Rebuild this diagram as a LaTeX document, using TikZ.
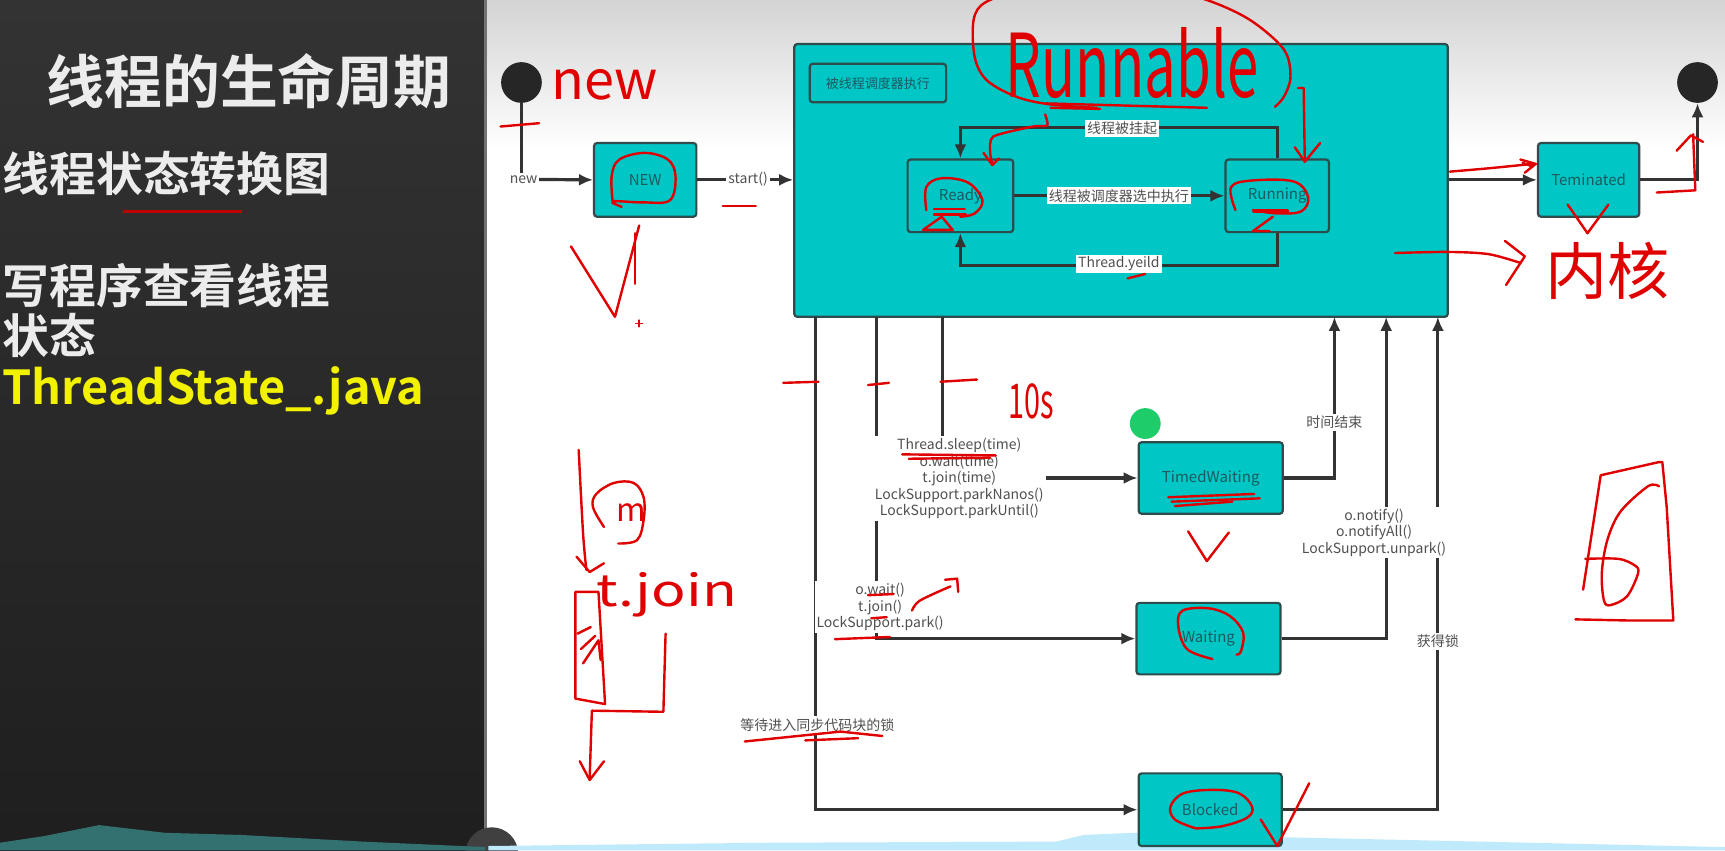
\documentclass[tikz,border=0pt]{standalone}
\usepackage{fontspec}
\newfontfamily\cjk{Noto Sans CJK SC}
\newfontfamily\cjkb{Noto Sans CJK SC Bold}
\newfontfamily\thin{DejaVu Sans}
\usetikzlibrary{arrows.meta}
\definecolor{cy}{HTML}{00C6C6}
\definecolor{bline}{HTML}{2E4C4C}
\definecolor{lineC}{HTML}{333333}
\definecolor{btxt}{HTML}{1E5A5E}
\definecolor{ltxt}{HTML}{505050}
\definecolor{hred}{HTML}{E00000}
\definecolor{chalk}{HTML}{ECECEC}
\definecolor{yel}{HTML}{F2F200}
\definecolor{gdot}{HTML}{1FCC6A}
\begin{document}
\begin{tikzpicture}[x=0.55pt,y=-0.55pt,
 wh/.style 2 args={minimum width=#1*0.55pt, minimum height=#2*0.55pt},
 box/.style={draw=bline, fill=cy, rounded corners=1.5pt, line width=1.1pt, inner sep=0pt, text=btxt, font=\cjk\fontsize{7.5}{9}\selectfont},
 conn/.style={draw=lineC, line width=1.6pt},
 arr/.style={conn, -{Latex[length=7pt,width=6pt]}},
 lab/.style={fill=white, inner sep=1pt, text=ltxt, align=center, font=\cjk\fontsize{7}{8.25}\selectfont},
 hand/.style={draw=hred, line width=1.2pt, line cap=round, line join=round},
 handtxt/.style={text=hred, inner sep=0pt},
 chalktxt/.style={anchor=west, inner sep=0pt, text=chalk, font=\cjkb\fontsize{23.4}{26}\selectfont},
]
\useasboundingbox (0,0) rectangle (1568,773);
\clip (0,0) rectangle (1568,773);
% backgrounds
\fill[white] (441,0) rectangle (1568,773);
\shade[top color=black!17, bottom color=white] (441,0) rectangle (1568,135);
\shade[top color=black!80, bottom color=black!88] (0,0) rectangle (441,773);
\draw[black!55, line width=1.5pt] (441,0) -- (441,773);
\fill[black!75] (447,776) circle (24);
\fill[cyan!25!white] (444,773) -- (444,769) -- (700,766) -- (960,765) -- (985,759) -- (1030,757) -- (1165,761) -- (1568,770) -- (1568,773) -- cycle;
\fill[teal!60!black!80] (0,773) -- (0,766) -- (40,760) -- (90,750) -- (150,757) -- (220,759) -- (330,765) -- (441,770) -- (441,773) -- cycle;

% left panel texts
\node[chalktxt, font=\cjkb\fontsize{28.9}{32}\selectfont] (t0) at (42,74) {线程的生命周期};
\node[chalktxt] (t1) at (2,158) {线程状态转换图};
\draw[red!75!black, line width=1.7pt] (112,192) -- (220,192);
\node[chalktxt] (t2) at (2,260) {写程序查看线程};
\node[chalktxt] (t3) at (2,305) {状态};
\node[chalktxt, text=yel] (t4) at (2,355) {ThreadState\_.java};

% diagram nodes
\node[circle, fill=black!85, minimum size=37*0.55pt, inner sep=0pt] (start) at (474,75) {};
\node[circle, fill=black!85, minimum size=37*0.55pt, inner sep=0pt] (endc) at (1543,75) {};
\node[box, wh={594}{248}] (big) at (1019,164) {};
\node[box, wh={124}{35}, font=\cjk\fontsize{6.5}{8}\selectfont] (inner) at (798,75.5) {被线程调度器执行};
\node[box, wh={93}{67}] (new) at (586.5,163.5) {NEW};
\node[box, wh={96}{66}] (ready) at (873,178) {Ready};
\node[box, wh={94}{66}] (running) at (1161,178) {Running};
\node[box, wh={92}{67}] (term) at (1444,163.5) {Teminated};
\node[box, wh={131}{65}] (timed) at (1100.5,434.5) {TimedWaiting};
\node[box, wh={131}{65}] (waiting) at (1098.5,580.5) {Waiting};
\node[box, wh={130}{66}] (blocked) at (1100,736) {Blocked};

% connectors
\coordinate (newc) at (474,163);
\draw[conn] (start.south) -- (newc);
\draw[arr] (newc) -- (new.west);
\node[lab] (lnew) at (476,163) {new};
\draw[arr] (new.east) -- (new.east -| big.west);
\node[lab] (lstart) at (680,163) {start()};
\draw[arr] (running.north) -- ++(0,-28) -| (ready.north);
\node[lab] (l1) at (1020,117) {线程被挂起};
\draw[arr] (ready.east) -- (running.west);
\node[lab] (l2) at (1017,178) {线程被调度器选中执行};
\draw[arr] (running.south) -- ++(0,29) -| (ready.south);
\node[lab] (l3) at (1017,240) {Thread.yeild};
\draw[arr] (term.west -| big.east) -- (term.west);
\draw[arr] (term.east) -| (endc.south);

\coordinate (s1) at (741,288);
\coordinate (s2) at (797,288);
\coordinate (s3) at (857,288);
\coordinate (u1) at (1213,288);
\coordinate (u2) at (1260,288);
\coordinate (u3) at (1307,288);
\draw[arr] (s1) |- (blocked.west);
\draw[arr] (s2) |- (waiting.west);
\draw[arr] (s3) |- (timed.west);
\draw[arr] (timed.east) -| (u1);
\draw[arr] (waiting.east) -| (u2);
\draw[arr] (blocked.east) -| (u3);
\node[lab] (l4) at (743,659) {等待进入同步代码块的锁};
\node[lab] (l5) at (800,552) {o.wait()\\t.join()\\LockSupport.park()};
\node[lab] (l6) at (872,435) {Thread.sleep(time)\\o.wait(time)\\t.join(time)\\LockSupport.parkNanos()\\LockSupport.parkUntil()};
\node[lab] (l7) at (1213,384) {时间结束};
\node[lab] (l8) at (1249,484) {o.notify()\\o.notifyAll()\\LockSupport.unpark()};
\node[lab] (l9) at (1307,583) {获得锁};

\fill[gdot] (1041,385) circle (14);

% red handwriting
\node[handtxt, anchor=base, font=\cjk\fontsize{27}{27}\selectfont] (hnew) at (550,90) {new};
\draw[hand] (455,115) -- (490,112);
\draw[hand] plot[smooth, tension=0.6] coordinates {(557,185) (556,160) (563,145) (586,139) (607,145) (614,160) (609,182) (585,184) (557,183) (565,188)};
\draw[hand] (519,224) -- (559,288) -- (581,205);
\draw[hand] (577,212) -- (577,258);
\draw[hand, line width=0.8pt] (578,294) -- (584,294) (581,291) -- (581,297);
\draw[hand] (657,187) -- (687,187);
% Runnable
\draw[hand] plot[smooth, tension=0.55] coordinates {(997,98) (955,95) (924,88) (897,73) (886,52) (885,18) (896,2) (930,-8) (1000,-12) (1060,-8) (1097,0) (1136,18) (1167,45) (1173,70) (1167,88) (1159,97)};
\node[handtxt, anchor=base] (hrun) at (1029,89) {\scalebox{0.64}[1]{\cjk\fontsize{44}{44}\selectfont Runnable}};
\draw[hand] (951,94) -- (1097,98);
\draw[hand] (955,98) -- (1000,99);
\draw[hand] plot[smooth, tension=0.4] coordinates {(950,104) (952,114) (939,115) (903,124) (900,138) (902,150)};
\draw[hand] (894,139) -- (902,150) -- (908,144);
\draw[hand] (1180,80) -- (1185,80) -- (1186,145);
\draw[hand] (1177,134) -- (1186,147) -- (1200,130);
% Ready / Running marks
\draw[hand] plot[smooth, tension=0.6] coordinates {(842,191) (842,170) (856,162) (880,166) (893,182) (886,194) (873,197)};
\draw[hand] (849,190) -- (877,190) (849,195) -- (878,195);
\draw[hand] (856,197) -- (839,209) -- (866,209) -- cycle;
\draw[hand] plot[smooth, tension=0.6] coordinates {(1123,191) (1119,170) (1139,164) (1176,165) (1189,179) (1183,192) (1161,194) (1139,191)};
\draw[hand, line width=2pt] (1140,192) -- (1170,192);
\draw[hand] (1157,197) -- (1139,210) -- (1154,210);
\draw[hand] (1025,253) -- (1041,249);
% to Teminated / end
\draw[hand] plot[smooth, tension=0.5] coordinates {(1318,156) (1353,153) (1393,149)};
\draw[hand] (1382,145) -- (1396,149) -- (1386,157);
\draw[hand] (1384,148) -- (1392,151);
\draw[hand] (1506,175) -- (1541,173) -- (1539,122);
\draw[hand] (1524,137) -- (1537,123) -- (1548,129);
\draw[hand] (1425,186) -- (1443,212) -- (1462,186);
\draw[hand] plot[smooth, tension=0.5] coordinates {(1268,230) (1316,229) (1353,231) (1382,239)};
\draw[hand] (1368,219) -- (1386,233) -- (1369,259);
\node[handtxt, font=\cjk\fontsize{31}{31}\selectfont] (hkern) at (1461,246) {内核};
% bottom lines
\draw[hand] (712,348) -- (744,347);
\draw[hand] (789,350) -- (808,348);
\draw[hand] (855,347) -- (888,345);
\node[handtxt, anchor=base] (h10) at (937,380) {\scalebox{0.6}[1]{\cjk\fontsize{24}{24}\selectfont 10s}};
\draw[hand] (820,413) -- (905,414);
\draw[hand] (826,417) -- (900,416);
\draw[hand] (1062,452) -- (1140,449);
\draw[hand] (1065,456) -- (1145,453);
\draw[hand] (1068,460) -- (1120,456);
\draw[hand] (1080,483) -- (1097,510) -- (1117,484);
\draw[hand] (789,541) -- (812,540);
\draw[hand] (792,562) -- (806,561);
\draw[hand] (759,581) -- (809,579);
\draw[hand] plot[smooth, tension=0.5] coordinates {(829,555) (836,546) (864,533)};
\draw[hand] (859,527) -- (870,526) -- (871,538);
\draw[hand] plot[smooth, tension=0.6] coordinates {(1124,595) (1128,592) (1130,575) (1118,560) (1099,553) (1075,555) (1071,569) (1079,590) (1102,599)};
\draw[hand] (677,674) -- (764,665) -- (802,669);
\draw[hand] (732,673) -- (780,671);
\draw[hand] plot[smooth, tension=0.6] coordinates {(1087,753) (1068,745) (1064,733) (1076,721) (1103,718) (1126,721) (1138,733) (1134,743) (1111,751) (1087,753)};
\draw[hand] (1146,745) -- (1161,769) -- (1190,712);
% 6 in a box
\draw[hand] (1439,536) -- (1455,432) -- (1508,420) -- (1511,420) -- (1515,461) -- (1521,564) -- (1479,564) -- (1432,563);
\draw[hand] plot[smooth, tension=0.55] coordinates {(1508,442) (1498,442) (1473,465) (1461,491) (1456,521) (1458,546) (1464,550) (1479,542) (1489,521) (1486,514) (1471,508) (1441,508)};
% left t.join sketch
\draw[hand] plot[smooth, tension=0.5] coordinates {(526,409) (530,485) (533,518)};
\draw[hand] (524,506) -- (536,520) -- (549,512);
\draw[hand] plot[smooth, tension=0.6] coordinates {(549,479) (539,461) (542,449) (558,439) (576,439) (585,452) (585,473) (579,491) (562,494)};
\node[handtxt, font=\cjk\fontsize{16}{16}\selectfont] (hm) at (574,466) {m};
\draw[hand] (523,538) -- (544,538) -- (550,640) -- (523,635) -- cycle;
\draw[hand] (525,576) -- (537,570);
\draw[hand] (530,603) -- (544,582) -- (546,600);
\draw[hand] (528,590) -- (541,578);
\node[handtxt, anchor=base] (hjoin) at (606,551) {\scalebox{1.3}[1]{\cjk\fontsize{22}{22}\selectfont t.join}};
\draw[hand] (605,576) -- (603,647) -- (538,646) -- (536,707);
\draw[hand] (527,692) -- (536,709) -- (549,692);
\end{tikzpicture}
\end{document}
